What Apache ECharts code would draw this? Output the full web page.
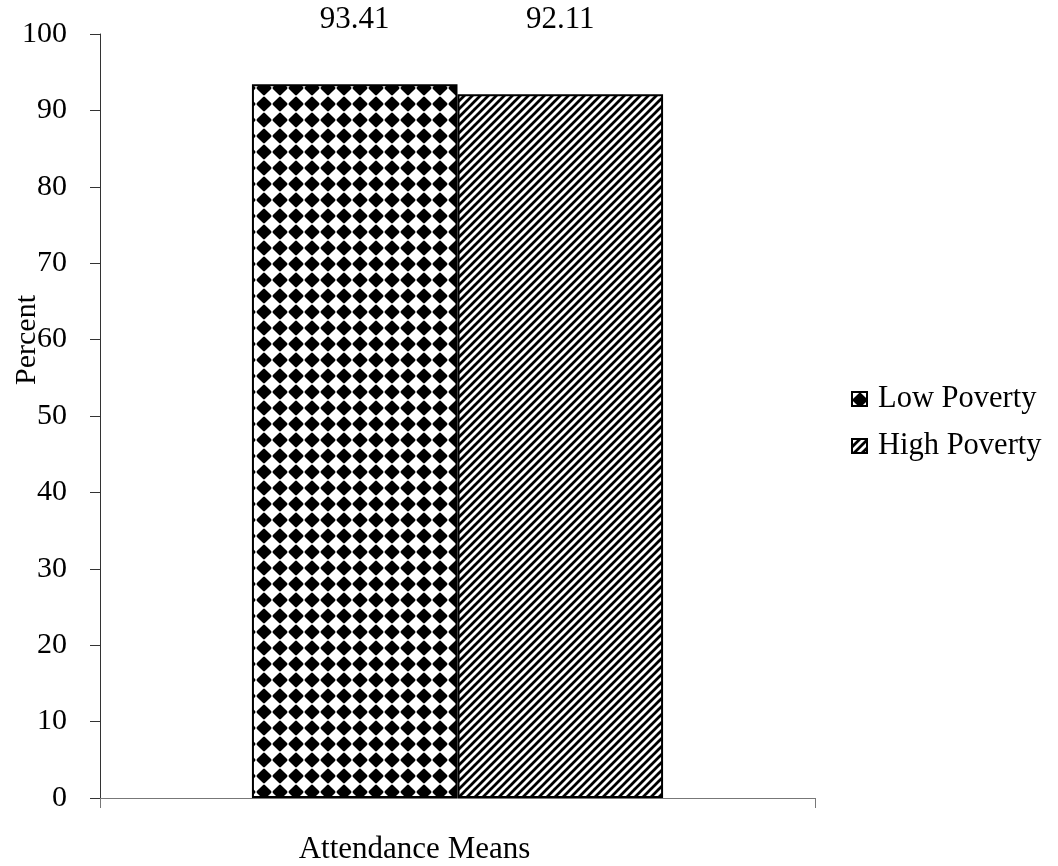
<!DOCTYPE html>
<html>
<head>
<meta charset="utf-8">
<script src="https://cdn.jsdelivr.net/npm/echarts@6/dist/echarts.min.js"></script>
<style>
  html, body { margin: 0; padding: 0; background: #fff; }
  #chart { width: 1058px; height: 866px; }
</style>
</head>
<body>
<div id="chart"></div>
<script>
// Chart data
const categories = ['Attendance Means'];
const seriesNames = ['Low Poverty', 'High Poverty'];
const lowPoverty = [93.41];
const highPoverty = [92.11];

const FONT = '"Liberation Serif", "Times New Roman", serif';

// Black-on-white diamond grid fill
function diamondPattern(size, half) {
  const c = document.createElement('canvas');
  c.width = size; c.height = size;
  const g = c.getContext('2d');
  g.fillStyle = '#fff';
  g.fillRect(0, 0, size, size);
  const m = size / 2;
  g.beginPath();
  g.moveTo(m, m - half);
  g.lineTo(m + half, m);
  g.lineTo(m, m + half);
  g.lineTo(m - half, m);
  g.closePath();
  g.fillStyle = '#000';
  g.strokeStyle = '#000';
  g.lineJoin = 'round';
  g.lineWidth = 2.5;
  g.fill();
  g.stroke();
  return { image: c, repeat: 'repeat' };
}

// Forward-slash diagonal stripe fill
function stripePattern(size, width) {
  const c = document.createElement('canvas');
  c.width = size; c.height = size;
  const g = c.getContext('2d');
  g.fillStyle = '#fff';
  g.fillRect(0, 0, size, size);
  g.strokeStyle = '#000';
  g.lineWidth = width;
  g.beginPath();
  for (let k = -1; k <= 1; k++) {
    g.moveTo(k * size - 2, size + 2);
    g.lineTo(k * size + size + 2, -2);
  }
  g.stroke();
  return { image: c, repeat: 'repeat' };
}

const fills = [diamondPattern(16, 6.2), stripePattern(8, 2.8)];
const seriesData = [lowPoverty, highPoverty];

const chart = echarts.init(document.getElementById('chart'), null, { renderer: 'canvas' });

chart.setOption({
  animation: false,
  backgroundColor: '#fff',
  textStyle: { fontFamily: FONT, color: '#000' },
  grid: { left: 100, right: 243, top: 34, bottom: 68, containLabel: false, outerBoundsMode: 'none' },
  legend: {
    orient: 'vertical',
    left: 846,
    top: 378,
    icon: 'rect',
    itemWidth: 15,
    itemHeight: 14,
    itemGap: 15,
    textStyle: { fontFamily: FONT, fontSize: 30.5, color: '#000', lineHeight: 32, padding: [0, 0, 0, 6] },
    data: seriesNames
  },
  xAxis: {
    type: 'category',
    data: categories,
    boundaryGap: true,
    axisLine: { lineStyle: { color: '#777', width: 1 } },
    axisTick: { show: true, length: 10, lineStyle: { color: '#777' } },
    axisLabel: {
      fontFamily: FONT, fontSize: 31, color: '#000',
      margin: 36, padding: [0, 86, 0, 0]
    }
  },
  yAxis: {
    type: 'value',
    min: 0,
    max: 100,
    interval: 10,
    name: 'Percent',
    nameLocation: 'middle',
    nameGap: 58,
    nameMoveOverlap: false,
    nameTextStyle: { fontFamily: FONT, fontSize: 30, color: '#000', padding: [0, 0, 0, 152] },
    axisLine: { show: true, lineStyle: { color: '#333', width: 1 } },
    axisTick: { show: true, length: 10, lineStyle: { color: '#333' } },
    axisLabel: { fontFamily: FONT, fontSize: 30, color: '#000', margin: 33 },
    splitLine: { show: false }
  },
  series: seriesNames.map((name, i) => ({
    name: name,
    type: 'bar',
    data: seriesData[i],
    barGap: '0%',
    barCategoryGap: '42.5%',
    itemStyle: { color: fills[i], borderColor: '#000', borderWidth: 2 },
    label: {
      show: true,
      position: 'top',
      fontFamily: FONT,
      fontSize: 31,
      color: '#000',
      formatter: p => p.value.toFixed(2)
    },
    labelLayout: () => ({ y: 20, align: 'center', verticalAlign: 'middle' })
  }))
});
</script>
</body>
</html>
